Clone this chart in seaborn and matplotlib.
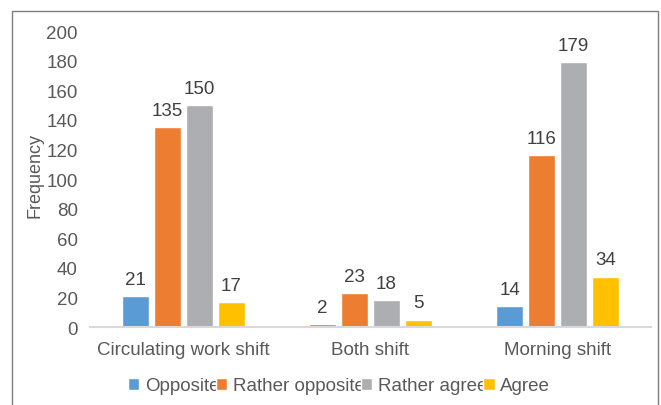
import matplotlib
matplotlib.use("Agg")
import matplotlib.pyplot as plt
from matplotlib.patches import Rectangle
import seaborn as sns
import pandas as pd

shifts = ["Circulating work shift", "Both shift", "Morning shift"]
responses = ["Opposite", "Rather opposite", "Rather agree", "Agree"]
opposite = [21, 2, 14]
rather_opposite = [135, 23, 116]
rather_agree = [150, 18, 179]
agree = [17, 5, 34]
colors = ["#5B9BD5", "#ED7D31", "#ADAEB2", "#FFC000"]

rows = []
for resp, vals in zip(responses, [opposite, rather_opposite, rather_agree, agree]):
    for s, v in zip(shifts, vals):
        rows.append({"Shift": s, "Response": resp, "Frequency": v})
df = pd.DataFrame(rows)

sns.set_theme(style="white")
plt.rcParams["font.family"] = ["Liberation Sans", "DejaVu Sans"]

fig = plt.figure(figsize=(6.61, 4.06), dpi=100)
ax = fig.add_axes([0.136, 0.192, 0.849, 0.729])

sns.barplot(data=df, x="Shift", y="Frequency", hue="Response",
            order=shifts, hue_order=responses, palette=colors,
            width=0.685, gap=0.16, saturation=1, ax=ax, legend=True)

for cont in ax.containers:
    ax.bar_label(cont, padding=6, fontsize=13.5, color="#404040")

ax.set_ylim(0, 200)
ax.set_yticks(range(0, 201, 20))
ax.set_xlim(-0.5, 2.5)
ax.tick_params(axis="both", length=0, labelsize=13.5, labelcolor="#595959")
ax.tick_params(axis="x", pad=10)
ax.tick_params(axis="y", pad=8.6)
ax.set_xlabel("")
ax.set_ylabel("Frequency", fontsize=13, color="#595959")
ax.yaxis.set_label_coords(-0.082, 0.515)
for side in ["left", "right", "top"]:
    ax.spines[side].set_visible(False)
ax.spines["bottom"].set_color("#D9D9D9")
ax.spines["bottom"].set_linewidth(1.5)

handles, labels = ax.get_legend_handles_labels()
leg = ax.legend(handles, labels, loc="center",
                ncol=4, frameon=False, fontsize=13.5, labelcolor="#595959",
                handlelength=0.6, handleheight=0.6, handletextpad=0.3,
                columnspacing=-0.2, borderaxespad=0)
leg.set_bbox_to_anchor((0.513, 0.047), transform=fig.transFigure)

fig.patches.append(Rectangle((12 / 661, -0.01), 646 / 661, 1 - 12 / 406 + 0.01,
                             transform=fig.transFigure, fill=False,
                             edgecolor="#7F7F7F", linewidth=1))

fig.savefig("out.png", dpi=100)
